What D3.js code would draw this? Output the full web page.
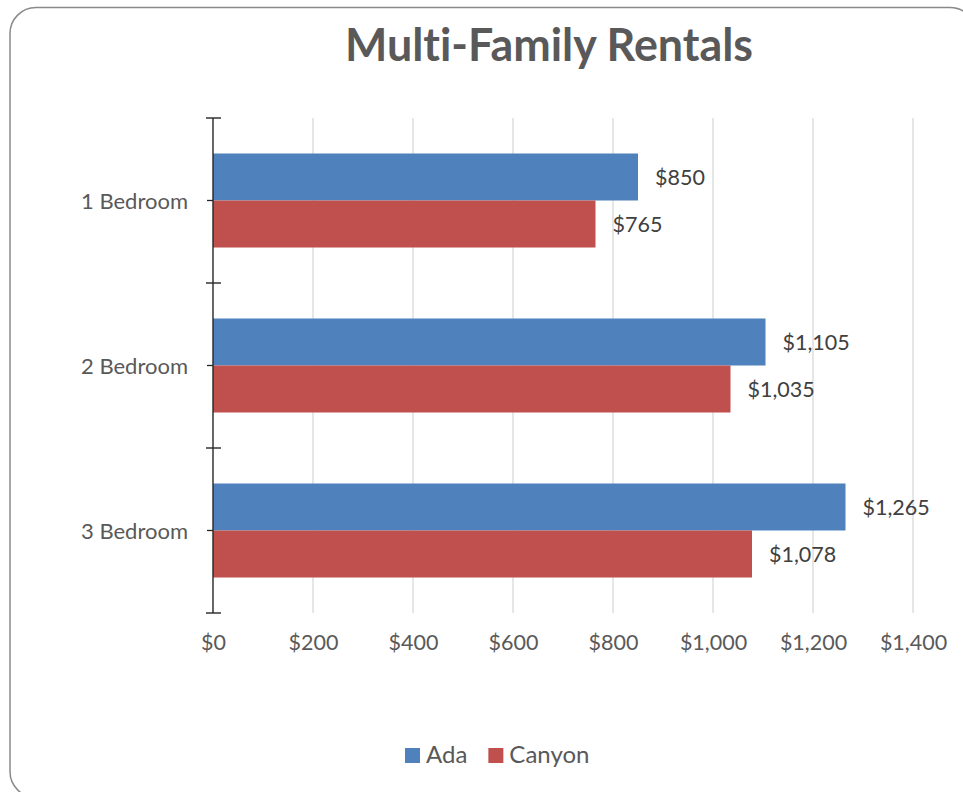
<!DOCTYPE html>
<html><head><meta charset="utf-8">
<script src="https://cdn.jsdelivr.net/npm/d3@7"></script>
<style>body{margin:0;background:#fff}svg{display:block}text{font-variant-ligatures:none;font-feature-settings:"liga" 0}</style>
</head><body>
<script>
const categories = ["1 Bedroom", "2 Bedroom", "3 Bedroom"];
const seriesNames = ["Ada", "Canyon"];
const adaValues = [850, 1105, 1265];
const canyonValues = [765, 1035, 1078];
const xTicks = [0, 200, 400, 600, 800, 1000, 1200, 1400];
const colors = ["#4F81BD", "#C0504D"];
const title = "Multi-Family Rentals";

const W = 963, H = 792;
const FONT = "Lato, 'Open Sans', sans-serif";
const svg = d3.select("body").append("svg").attr("width", W).attr("height", H);

svg.append("rect").attr("x", 10).attr("y", 7.5).attr("width", 966).attr("height", 790)
  .attr("rx", 26).attr("fill", "#fff").attr("stroke", "#8a8a8a").attr("stroke-width", 1.5);

const x = d3.scaleLinear().domain([0, 1400]).range([213, 913]);
const y = d3.scaleBand().domain(categories).range([118, 613]).padding(0);
const ys = d3.scaleBand().domain(seriesNames).range([0, y.bandwidth()]).paddingInner(0).paddingOuter(0.755);

// gridlines
svg.append("g").selectAll("line").data(xTicks.filter(d => d > 0)).join("line")
  .attr("x1", d => x(d)).attr("x2", d => x(d)).attr("y1", 118).attr("y2", 613)
  .attr("stroke", "#d9d9d9").attr("stroke-width", 1.3);

// x tick labels
const xAxis = d3.axisBottom(x).tickValues(xTicks).tickSize(0).tickPadding(0)
  .tickFormat(d => "$" + d3.format(",")(d));
const gx = svg.append("g").attr("transform", "translate(0,650)").call(xAxis);
gx.select(".domain").remove();
gx.selectAll("text").attr("dy", 0).attr("font-family", FONT).attr("font-size", 21.5).attr("fill", "#595959");

// bars
const data = [];
categories.forEach((c, i) => {
  data.push({cat: c, s: "Ada", v: adaValues[i]});
  data.push({cat: c, s: "Canyon", v: canyonValues[i]});
});
svg.append("g").selectAll("rect").data(data).join("rect")
  .attr("x", x(0)).attr("y", d => y(d.cat) + ys(d.s))
  .attr("width", d => x(d.v) - x(0)).attr("height", ys.bandwidth())
  .attr("fill", d => colors[seriesNames.indexOf(d.s)]);

// data labels
svg.append("g").selectAll("text").data(data).join("text")
  .attr("x", d => x(d.v) + 17).attr("y", d => y(d.cat) + ys(d.s) + ys.bandwidth() / 2)
  .attr("dy", "0.38em").attr("font-family", FONT).attr("font-size", 21.5).attr("fill", "#404040")
  .text(d => "$" + d3.format(",")(d.v));

// y axis
const yAxis = d3.axisLeft(y).tickSize(6).tickPadding(19);
const gy = svg.append("g").attr("transform", "translate(213,0)").call(yAxis);
gy.select(".domain").attr("d", "M0,118V613").attr("stroke", "#262626").attr("stroke-width", 1.4);
gy.selectAll(".tick line").attr("stroke", "#262626").attr("stroke-width", 1.3);
gy.selectAll(".tick text").attr("dy", "0.38em").attr("font-family", FONT).attr("font-size", 22).attr("fill", "#595959");
// boundary cross ticks
const bounds = [y.range()[0]].concat(categories.map(c => y(c) + y.bandwidth()));
svg.append("g").selectAll("line").data(bounds).join("line")
  .attr("x1", 206).attr("x2", 221).attr("y1", d => d).attr("y2", d => d)
  .attr("stroke", "#262626").attr("stroke-width", 1.4);

// title
svg.append("text").attr("x", 549).attr("y", 61).attr("text-anchor", "middle")
  .attr("font-family", FONT).attr("font-weight", 700).attr("font-size", 45).attr("fill", "#595959")
  .attr("textLength", 408).attr("lengthAdjust", "spacingAndGlyphs").text(title);

// legend
const lg = svg.append("g");
let lx = 405;
seriesNames.forEach((s, i) => {
  lg.append("rect").attr("x", lx).attr("y", 748).attr("width", 15).attr("height", 15).attr("fill", colors[i]);
  const t = lg.append("text").attr("x", lx + 21).attr("y", 763).attr("font-family", FONT)
    .attr("font-size", 24).attr("fill", "#595959").text(s);
  lx += 21 + t.node().getComputedTextLength() + 21;
});
</script>
</body></html>
